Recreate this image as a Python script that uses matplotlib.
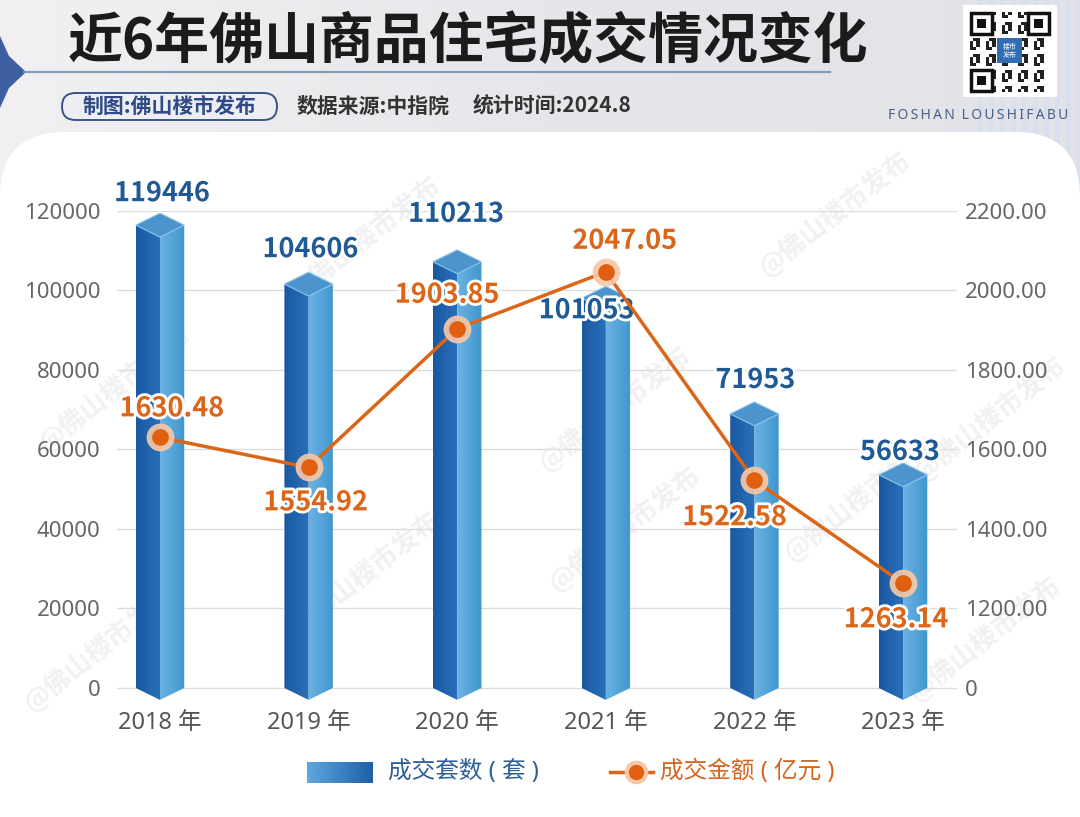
import numpy as np
import matplotlib
matplotlib.use('Agg')
import matplotlib.pyplot as plt
from matplotlib.patches import Polygon, FancyBboxPatch, Rectangle
from matplotlib.colors import LinearSegmentedColormap
import matplotlib.patheffects as pe

plt.rcParams['font.family'] = ['Noto Sans', 'Noto Sans CJK SC', 'DejaVu Sans']
CJK = ['Noto Sans CJK SC', 'DejaVu Sans']

# data
years = ['2018 年', '2019 年', '2020 年', '2021 年', '2022 年', '2023 年']
units = [119446, 104606, 110213, 101053, 71953, 56633]        # 成交套数
amount = [1630.48, 1554.92, 1903.85, 2047.05, 1522.58, 1263.14]  # 成交金额
left_ticks = [0, 20000, 40000, 60000, 80000, 100000, 120000]
right_ticks = [1000, 1200, 1400, 1600, 1800, 2000, 2200]
right_labels = ['0', '1200.00', '1400.00', '1600.00', '1800.00', '2000.00', '2200.00']

# label offsets in pixels (dx, dy up)
unit_off = [(2, 20), (2, 23), (-1, 36), (-19, -24), (1, 22), (-3, 11)]
amt_off = [(12, 29), (7, -35), (-10, 34), (19, 31), (-20, -37), (-7, -36)]

BLUE_TXT = '#1f5a96'
ORANGE = '#dc6518'

fig = plt.figure(figsize=(10.8, 8.17), dpi=100)
fig.patch.set_facecolor('#e8e9ec')

# ---------- background / header, drawn in pixel coordinates ----------
bg = fig.add_axes([0, 0, 1, 1], zorder=-1)
bg.set_xlim(0, 1080)
bg.set_ylim(817, 0)
bg.axis('off')

hgrad = np.linspace(0, 1, 256).reshape(1, -1)
bg.imshow(hgrad, extent=(0, 1080, 200, 0), aspect='auto', zorder=0,
          cmap=LinearSegmentedColormap.from_list('hd', ['#f1f1f3', '#e6e7ea', '#e1e3e8']))

# stripes on the right of the header
for sx in range(978, 1080, 11):
    bg.add_patch(Rectangle((sx, 0), 5, 200, color='#d8e0ee', lw=0))

# left blue ornament + line under the title
bg.add_patch(Polygon([(0, 36), (9, 56), (26, 72), (9, 88), (0, 108)], closed=True,
                     color='#3f5fa3', lw=0))
bg.plot([24, 830], [72, 72], color='#7f91b6', lw=1.6, alpha=0.9)

bg.text(68, 41, '近6年佛山商品住宅成交情况变化', fontsize=39.5, weight='heavy',
        color='#1b1b1b', va='center', ha='left', family=CJK)

bg.add_patch(FancyBboxPatch((62, 93), 215, 27, boxstyle='round,pad=0,rounding_size=13.5',
                            facecolor='#eceef4', edgecolor='#3b5487', lw=1.4))
bg.text(169.5, 106.5, '制图:佛山楼市发布', fontsize=15, weight='bold', color='#2f4a85',
        ha='center', va='center', family=CJK)
bg.text(297, 106.5, '数据来源:中指院', fontsize=15, weight='bold', color='#333333',
        ha='left', va='center', family=CJK)
bg.text(473, 106.5, '统计时间:2024.8', fontsize=15, weight='bold', color='#333333',
        ha='left', va='center', family=CJK)
bg.text(978, 115, 'F O S H A N   L O U S H I F A B U'.replace(' ', '\u2009'),
        fontsize=10, color='#4a5f88', ha='center', va='center', weight='bold')

# QR-like badge
bg.add_patch(Rectangle((963, 5), 94, 92, color='white', lw=0))
cell = 3.2
for i in range(25):
    for j in range(25):
        if (i * i + 3 * j + i * j) % 5 < 2:
            bg.add_patch(Rectangle((970 + j * cell, 12 + i * cell), cell, cell,
                                   color='#222222', lw=0))
for fx, fy in [(970, 12), (1027, 12), (970, 69)]:
    bg.add_patch(Rectangle((fx, fy), 23, 23, color='white', lw=0))
    bg.add_patch(Rectangle((fx + 1, fy + 1), 21, 21, facecolor='none', edgecolor='#111', lw=2.5))
    bg.add_patch(Rectangle((fx + 7, fy + 7), 9, 9, color='#111', lw=0))
bg.add_patch(Rectangle((997, 38), 25, 25, color='#2f6db5', lw=0))
bg.text(1009.5, 50.5, '楼市\n发布', fontsize=5, color='white', ha='center', va='center',
        linespacing=1.0, family=CJK)

# white panel
bg.add_patch(FancyBboxPatch((0, 132), 1080, 800, boxstyle='round,pad=0,rounding_size=65',
                            facecolor='white', edgecolor='none', zorder=1))

# watermarks
for wx, wy in [(365, 240), (115, 390), (615, 410), (835, 215), (365, 575),
               (625, 530), (100, 650), (860, 500), (990, 420), (985, 640)]:
    bg.text(wx, wy, '@佛山楼市发布', rotation=38, fontsize=19, weight='bold',
            color='#f1f1f1', ha='center', va='center', zorder=1.5, family=CJK)

# legend (pixel coords)
bg.imshow(hgrad, extent=(307, 373, 783, 762), aspect='auto', zorder=3,
          cmap=LinearSegmentedColormap.from_list('lg', ['#5ea8de', '#1e5fa8']))
bg.text(388, 772, '成交套数 ( 套 )', fontsize=17, color='#2d5f97', ha='left', va='center',
        zorder=3)
bg.plot([610, 653], [772, 772], color=ORANGE, lw=2.5, zorder=3)
bg.plot([636], [772], 'o', ms=16, color='#f6c8a8', zorder=3)
bg.plot([636], [772], 'o', ms=10, color='#e0600f', zorder=3)
bg.text(660, 772, '成交金额 ( 亿元 )', fontsize=17, color='#d4661f', ha='left', va='center',
        zorder=3)
bg.set_xlim(0, 1080)
bg.set_ylim(817, 0)

# ---------- main chart ----------
ax = fig.add_axes([117 / 1080, (817 - 702.3) / 817, 840 / 1080, 491.3 / 817])
ax.set_facecolor('none')
x = np.arange(len(years))
ylo = -3600

w = 0.163
d = 3000
left_cmap = LinearSegmentedColormap.from_list('lf', ['#1a58a0', '#2872bb'])
right_cmap = LinearSegmentedColormap.from_list('rf', ['#6cb2e4', '#3f97cd'])


def grad_face(pts, cmap):
    poly = Polygon(pts, closed=True, facecolor='none', edgecolor='none', zorder=2)
    ax.add_patch(poly)
    xs = [p[0] for p in pts]
    ys = [p[1] for p in pts]
    im = ax.imshow(hgrad, extent=(min(xs), max(xs), min(ys), max(ys)), aspect='auto',
                   cmap=cmap, zorder=2, interpolation='bilinear')
    im.set_clip_path(poly)


for c, v in zip(x, units):
    grad_face([(c - w, 0), (c, -d), (c, v - 2 * d), (c - w, v - d)], left_cmap)
    grad_face([(c, -d), (c + w, 0), (c + w, v - d), (c, v - 2 * d)], right_cmap)
    ax.add_patch(Polygon([(c - w, v - d), (c, v - 2 * d), (c + w, v - d), (c, v)], closed=True,
                         facecolor='#4b94cd', edgecolor='#8cc3ea', lw=0.8, zorder=3))

ax.set_aspect('auto')
ax.set_xlim(-0.2894, 5.363)
ax.set_ylim(ylo, 120000)

for c, v, (dx, dy) in zip(x, units, unit_off):
    ax.annotate(str(v), (c, v), xytext=(dx, dy), textcoords='offset pixels', ha='center',
                va='center', fontsize=19.5, weight='bold', color=BLUE_TXT, zorder=6, family=CJK,
                path_effects=[pe.withStroke(linewidth=4, foreground='white')])

ax.set_yticks(left_ticks)
ax.set_yticklabels([str(t) for t in left_ticks])
ax.set_xticks(x)
ax.set_xticklabels(years)
ax.yaxis.grid(True, color='#dcdcdc', lw=1)
ax.set_axisbelow(True)
ax.tick_params(axis='y', length=0, pad=12, labelsize=16, labelcolor='#666666')
ax.tick_params(axis='x', length=0, pad=6, labelsize=17, labelcolor='#555555')
for s in ax.spines.values():
    s.set_visible(False)

# right axis: 0 then 1200-2200 (broken scale as in the original)
ax2 = ax.twinx()
ax2.set_ylim(1000 + ylo / 100, 2200)
ax2.set_yticks(right_ticks)
ax2.set_yticklabels(right_labels)
ax2.tick_params(axis='y', length=0, pad=6, labelsize=16, labelcolor='#666666')
for s in ax2.spines.values():
    s.set_visible(False)

ax2.plot(x, amount, color=ORANGE, lw=2.5, zorder=4)
ax2.plot(x, amount, 'o', ms=19, color='#f6c8a8', alpha=0.9, zorder=5)
ax2.plot(x, amount, 'o', ms=11, color='#e0600f', zorder=5)
for c, v, (dx, dy) in zip(x, amount, amt_off):
    ax2.annotate(f'{v:.2f}', (c, v), xytext=(dx, dy), textcoords='offset pixels', ha='center',
                 va='center', fontsize=19.5, weight='bold', color=ORANGE, zorder=6, family=CJK,
                 path_effects=[pe.withStroke(linewidth=4, foreground='white')])

fig.savefig('out.png', dpi=100)
